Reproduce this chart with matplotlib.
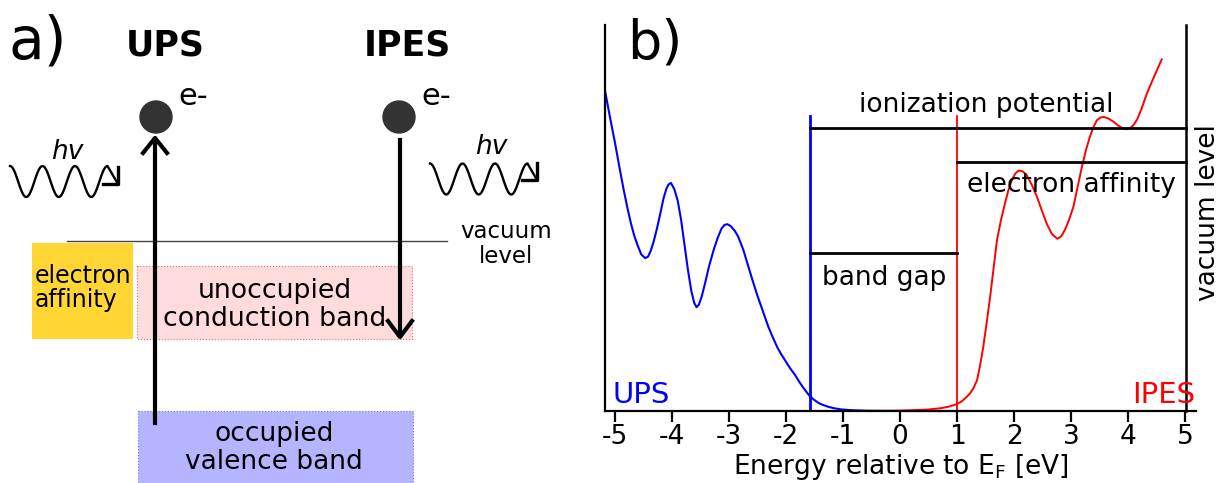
import numpy as np
import matplotlib
matplotlib.use('Agg')
import matplotlib.pyplot as plt
from matplotlib.patches import Rectangle, Circle

plt.rcParams['font.family'] = ['DejaVu Sans']
plt.rcParams['axes.unicode_minus'] = False

# ---- panel b data (energy in eV, intensity in arb. units 0..100) ----
ups_e = [-5.17, -5.08, -5.0, -4.92, -4.85, -4.78, -4.72, -4.66, -4.6, -4.54, -4.47,
         -4.42, -4.37, -4.32, -4.26, -4.2, -4.15, -4.1, -4.06, -4.02, -3.96, -3.9,
         -3.84, -3.78, -3.72, -3.66, -3.61, -3.57, -3.53, -3.48, -3.42, -3.35, -3.27,
         -3.2, -3.13, -3.08, -3.03, -2.97, -2.9, -2.84, -2.75, -2.66, -2.58, -2.5,
         -2.4, -2.31, -2.23, -2.15, -2.08, -2.02, -1.93, -1.84, -1.77, -1.7, -1.64,
         -1.58, -1.5, -1.42, -1.35, -1.25, -1.15, -1.05, -0.9, -0.75, -0.58, -0.3,
         0.0, 1.2]
ups_i = [82.6, 75.5, 69.5, 63.0, 57.5, 52.5, 48.6, 45.3, 42.8, 40.6, 39.6,
         40.0, 41.6, 44.0, 47.5, 51.5, 55.0, 57.5, 58.7, 59.1, 57.5, 54.5,
         49.5, 43.0, 36.5, 31.0, 28.0, 26.9, 27.5, 29.6, 33.1, 37.5, 41.7,
         44.8, 47.3, 48.2, 48.4, 47.9, 46.7, 45.2, 41.8, 37.4, 33.5, 29.8,
         25.6, 21.8, 19.0, 16.4, 14.6, 13.2, 11.1, 9.3, 7.6, 6.1, 4.9,
         3.8, 2.8, 2.0, 1.55, 1.05, 0.7, 0.45, 0.25, 0.15, 0.08, 0.03,
         0.0, 0.0]

ipes_e = [-0.55, -0.2, 0.0, 0.3, 0.5, 0.7, 0.85, 1.0, 1.08, 1.15, 1.23, 1.29, 1.35,
          1.40, 1.46, 1.52, 1.58, 1.64, 1.70, 1.77, 1.84, 1.90, 1.96, 2.02, 2.08,
          2.15, 2.22, 2.31, 2.40, 2.48, 2.57, 2.66, 2.76, 2.83, 2.89, 2.96, 3.04,
          3.11, 3.19, 3.26, 3.33, 3.39, 3.45, 3.51, 3.57, 3.65, 3.74, 3.82, 3.9,
          3.98, 4.04, 4.1, 4.16, 4.24, 4.33, 4.46, 4.59]
ipes_i = [0.0, 0.05, 0.1, 0.25, 0.4, 0.7, 1.1, 1.8, 2.5, 3.4, 4.6, 6.0, 8.0,
          11.5, 16.7, 23.0, 29.6, 37.0, 44.3, 49.5, 53.8, 57.2, 59.8, 61.5, 62.3,
          62.1, 61.1, 58.6, 55.5, 52.2, 48.6, 45.9, 44.6, 45.3, 46.9, 49.4, 52.9,
          57.8, 63.3, 67.6, 71.1, 73.5, 75.3, 76.0, 76.2, 75.8, 75.0, 74.0, 73.3,
          73.0, 73.3, 74.2, 75.6, 78.5, 82.3, 86.8, 91.1]

vbm = -1.58        # valence band onset (UPS)
cbm = 1.0          # conduction band onset (IPES)
vac = 5.02         # vacuum level
edge_top = 76.4
ip_level = 73.4
ea_level = 64.6
gap_level = 41.0
xticks = [-5, -4, -3, -2, -1, 0, 1, 2, 3, 4, 5]

# ---- panel a layout (pixel coordinates of the schematic) ----
band_boxes = [
    # x, y, w, h, face, edge
    (32, 243, 101, 96, '#ffd633', 'none'),
    (137, 266, 275, 73, '#ffdcdc', '#e07070'),
    (138, 411, 275, 80, '#b4b4ff', '#7070e0'),
]
electrons = [(156, 117), (399, 117)]

W, H = 1221, 483
fig = plt.figure(figsize=(W / 100, H / 100), dpi=100)

# ================= panel b =================
ax = fig.add_axes([605 / W, (H - 411) / H, (1196 - 605) / W, (411 - 25) / H])
ax.set_xlim(-5.175, 5.19)
ax.set_ylim(0, 100)

ax.plot(ups_e, ups_i, color='#0000ff', lw=1.5, clip_on=False, solid_joinstyle='round')
ax.plot(ipes_e, ipes_i, color='#ff0000', lw=1.4, clip_on=False, solid_joinstyle='round')

ax.plot([vbm, vbm], [0, edge_top], color='#0000ff', lw=2)
ax.plot([cbm, cbm], [0, edge_top], color='#ff0000', lw=1.3)
ax.plot([vbm, vac], [ip_level, ip_level], color='black', lw=2)
ax.plot([cbm, vac], [ea_level, ea_level], color='black', lw=2)
ax.plot([vbm, cbm], [gap_level, gap_level], color='black', lw=2)
ax.plot([vac, vac], [0, 100], color='black', lw=1.8, clip_on=False)

for s in ['top', 'right']:
    ax.spines[s].set_visible(False)
for s in ['left', 'bottom']:
    ax.spines[s].set_linewidth(1.6)
ax.set_yticks([])
ax.set_xticks(xticks)
ax.tick_params(axis='x', direction='out', length=8, width=1.6, labelsize=19, pad=1)
ax.set_xlabel('Energy relative to E$_\\mathregular{F}$ [eV]', fontsize=19, labelpad=2)

ax.text(1.51, 77.5, 'ionization potential', fontsize=19, ha='center', va='baseline')
ax.text(1.18, 56.8, 'electron affinity', fontsize=19, ha='left', va='baseline')
ax.text(-1.37, 32.6, 'band gap', fontsize=19, ha='left', va='baseline')
ax.text(-5.04, 2.1, 'UPS', fontsize=21, color='#0000ff', ha='left', va='baseline')
ax.text(5.18, 2.1, 'IPES', fontsize=21, color='#ff0000', ha='right', va='baseline')
ax.text(5.4, 51.5, 'vacuum level', fontsize=19, rotation=90, ha='center', va='center',
        clip_on=False)
ax.text(-4.79, 102, 'b)', fontsize=39, ha='left', va='top')

# ================= panel a =================
axa = fig.add_axes([0, 0, 600 / W, 1])
axa.set_xlim(0, 600)
axa.set_ylim(H, 0)
axa.axis('off')

for x, y, w, h, fc, ec in band_boxes:
    axa.add_patch(Rectangle((x, y), w, h, facecolor=fc, edgecolor=ec,
                            lw=0.8, ls=':', clip_on=False))

axa.plot([67, 447], [241, 241], color='#444444', lw=1)

for cx, cy in electrons:
    axa.add_patch(Circle((cx, cy), 16, color='#333333'))
    axa.text(cx + 22, cy - 12, 'e-', fontsize=22, ha='left', va='baseline')

# UPS: electron excited from valence band
axa.plot([155, 155], [423, 139], color='black', lw=3)
axa.plot([143, 155, 167], [153, 138, 153], color='black', lw=3)
# IPES: electron falls into conduction band
axa.plot([400, 400], [140, 336], color='black', lw=3)
axa.plot([388, 400, 412], [321, 337, 321], color='black', lw=3)


def photon(x0, yc, corner):
    # wiggly photon symbol ending in a right-angle arrow head
    t = np.linspace(0, 3, 120)
    xs = x0 + 32.5 * t
    ys = yc - 15.5 * np.cos(2 * np.pi * t)
    cx, cy = corner
    axa.plot(list(xs) + [cx], list(ys) + [cy], color='black', lw=1.7)
    axa.plot([cx - 15, cx, cx], [cy, cy, cy - 17], color='black', lw=2.4)


photon(10, 181.5, (118, 184))
photon(430, 179, (537, 180))
axa.text(67, 159, 'hv', fontsize=19, style='italic', ha='center', va='baseline')
axa.text(491, 154, 'hv', fontsize=19, style='italic', ha='center', va='baseline')

axa.text(165, 55, 'UPS', fontsize=25, fontweight='bold', ha='center', va='baseline')
axa.text(407, 55, 'IPES', fontsize=25, fontweight='bold', ha='center', va='baseline')
axa.text(8, 14, 'a)', fontsize=42, ha='left', va='top')

axa.text(506, 244, 'vacuum\nlevel', fontsize=16.5, ha='center', va='center',
         linespacing=1.1)
axa.text(35, 288, 'electron\naffinity', fontsize=17, ha='left', va='center',
         linespacing=1.05)
axa.text(275, 305, 'unoccupied\nconduction band', fontsize=19.3, ha='center',
         va='center', linespacing=1.1)
axa.text(274, 448, 'occupied\nvalence band', fontsize=19, ha='center',
         va='center', linespacing=1.1)

fig.savefig('out.png', dpi=100)
